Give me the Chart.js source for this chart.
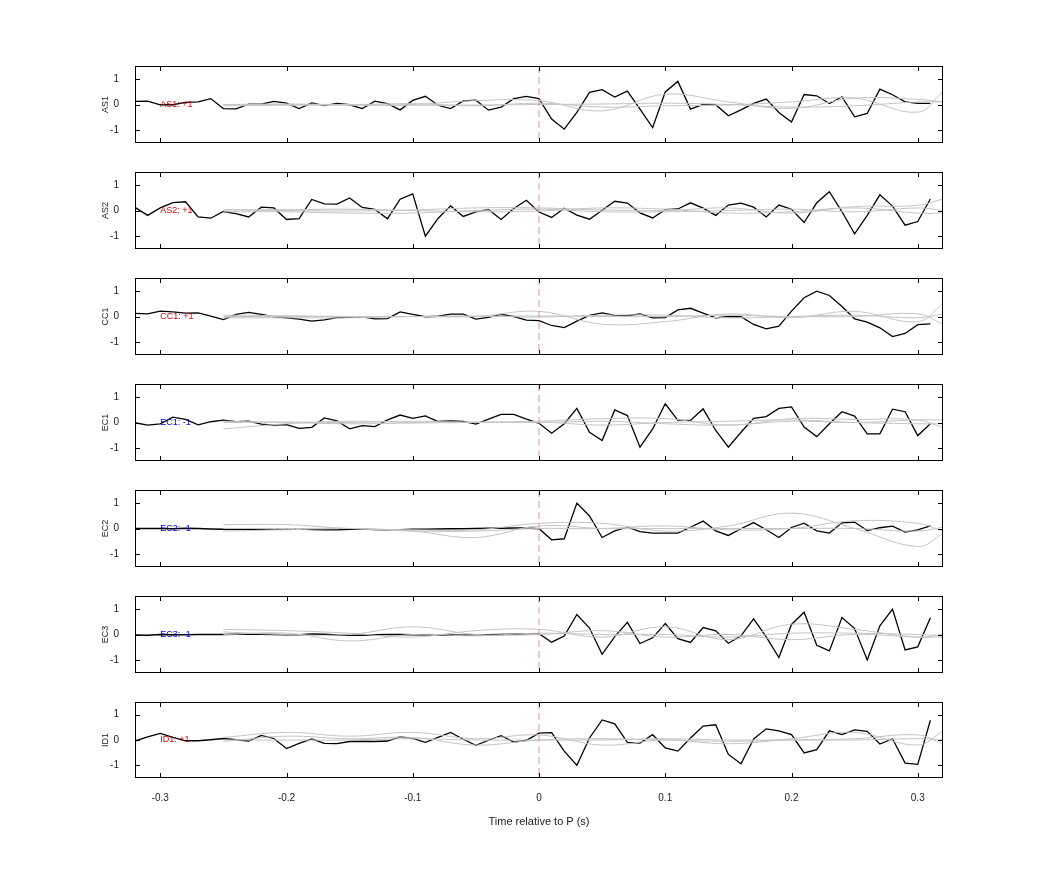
<!DOCTYPE html>
<html>
<head>
<meta charset="utf-8">
<script src="https://cdn.jsdelivr.net/npm/chart.js@4/dist/chart.umd.min.js"></script>
<style>
  body { margin: 0; background: #fff; width: 1042px; height: 875px; position: relative; }
  canvas { position: absolute; left: 0; }
</style>
</head>
<body>
<script>
// channel names, sign and label colour
const channels = ['AS1', 'AS2', 'CC1', 'EC1', 'EC2', 'EC3', 'ID1'];
const signs = ['+1', '+1', '+1', '-1', '-1', '-1', '+1'];
const tickLabels = [-0.3, -0.2, -0.1, 0, 0.1, 0.2, 0.3];

// sample times of the black traces (every 10 ms)
const times = [];
for (let i = 0; i < 64; i++) times.push(Math.round((-0.32 + 0.01 * i) * 100) / 100);

// time points of the grey traces
const greyT = [-0.25, -0.2, -0.15, -0.1, -0.05, 0, 0.05, 0.1, 0.15, 0.2, 0.25, 0.3, 0.32];

const as1 = [0.12,0.13,-0.01,-0.01,0.08,0.1,0.23,-0.16,-0.17,0.01,0.01,0.12,0.05,-0.16,0.06,-0.04,0.04,-0.01,-0.16,0.13,0.03,-0.21,0.16,0.32,-0.03,-0.16,0.14,0.17,-0.22,-0.1,0.23,0.32,0.23,-0.57,-0.96,-0.31,0.47,0.58,0.29,0.52,-0.18,-0.9,0.49,0.9,-0.18,0,-0.01,-0.44,-0.21,0.04,0.21,-0.31,-0.68,0.39,0.34,0.04,0.3,-0.48,-0.35,0.6,0.38,0.1,0.04,0.04];
const as2 = [0.12,-0.19,0.1,0.31,0.34,-0.25,-0.3,-0.04,-0.12,-0.25,0.13,0.1,-0.35,-0.32,0.43,0.26,0.25,0.49,0.12,0.04,-0.32,0.44,0.65,-1.0,-0.31,0.18,-0.23,-0.05,0.04,-0.35,0.08,0.4,-0.06,-0.27,0.09,-0.18,-0.34,0.01,0.36,0.29,-0.09,-0.29,0.03,0.06,0.3,0.09,-0.19,0.21,0.29,0.13,-0.25,0.21,0.05,-0.47,0.3,0.73,-0.05,-0.91,-0.19,0.61,0.17,-0.57,-0.43,0.45];
const cc1 = [0.12,0.1,0.21,0.18,0.13,0.14,0.01,-0.12,0.08,0.16,0.08,-0.01,-0.05,-0.1,-0.18,-0.13,-0.04,-0.03,-0.01,-0.09,-0.08,0.18,0.08,-0.01,0.01,0.09,0.09,-0.1,-0.03,0.08,0,-0.14,-0.16,-0.35,-0.43,-0.18,0.04,0.14,0.04,0.03,0.1,-0.05,-0.04,0.26,0.32,0.13,-0.05,0,-0.01,-0.31,-0.48,-0.38,0.21,0.73,0.99,0.82,0.39,-0.09,-0.22,-0.44,-0.78,-0.66,-0.32,-0.29];
const ec1 = [-0.01,-0.1,-0.05,0.21,0.12,-0.09,0.03,0.09,0.03,0.05,-0.06,-0.1,-0.08,-0.23,-0.19,0.18,0.06,-0.25,-0.12,-0.16,0.1,0.29,0.16,0.26,0.04,0.06,0.04,-0.06,0.13,0.32,0.32,0.13,-0.03,-0.42,-0.05,0.55,-0.38,-0.7,0.49,0.27,-0.96,-0.25,0.73,0.08,0.08,0.53,-0.31,-0.96,-0.38,0.16,0.23,0.55,0.61,-0.18,-0.55,-0.05,0.42,0.25,-0.44,-0.44,0.52,0.42,-0.51,-0.05];
const ec2 = [0,0,0,-0.01,0.01,0,-0.02,-0.03,-0.03,-0.03,-0.03,-0.02,-0.01,-0.02,-0.04,-0.05,-0.05,-0.03,-0.02,-0.04,-0.05,-0.04,-0.03,-0.03,-0.02,-0.01,-0.01,0,0.01,0.01,0.02,0.02,-0.01,-0.44,-0.4,0.99,0.49,-0.35,-0.09,0.05,-0.12,-0.18,-0.18,-0.18,0.05,0.29,-0.09,-0.27,-0.01,0.23,-0.05,-0.35,0.04,0.21,-0.09,-0.18,0.22,0.25,-0.08,0.03,0.09,-0.14,-0.05,0.1];
const ec3 = [-0.02,-0.03,0,-0.01,-0.01,0,0,0,0.01,0.01,0.01,0,-0.01,-0.01,0.02,0.01,-0.02,-0.03,-0.03,-0.01,0,0,-0.01,-0.01,-0.02,-0.02,-0.03,-0.02,-0.01,0,0.01,0.03,0.03,-0.3,-0.06,0.78,0.25,-0.77,-0.08,0.47,-0.35,-0.13,0.43,-0.16,-0.31,0.27,0.14,-0.34,-0.05,0.61,-0.09,-0.9,0.39,0.87,-0.42,-0.64,0.66,0.23,-0.99,0.34,0.99,-0.6,-0.48,0.65];
const id1 = [-0.04,0.12,0.26,0.1,-0.03,-0.03,0.01,0.06,0.01,-0.04,0.18,0.06,-0.34,-0.13,0.04,-0.13,-0.14,-0.06,-0.05,-0.06,-0.04,0.12,0.06,-0.09,0.1,0.3,0.03,-0.21,-0.01,0.17,-0.08,-0.01,0.27,0.29,-0.44,-1.0,0.08,0.79,0.64,-0.09,-0.12,0.21,-0.31,-0.44,0.08,0.55,0.6,-0.57,-0.94,0.04,0.44,0.36,0.21,-0.51,-0.38,0.36,0.21,0.4,0.34,-0.16,0.05,-0.91,-0.96,0.78];
const traces = [as1, as2, cc1, ec1, ec2, ec3, id1];

// grey traces, one list per panel
const greys = [
  [[0,0,-0.02,0,0.15,0.15,-0.25,0.4,0.1,-0.15,0.25,0.2,0.1],
   [0,0.02,0,0.03,-0.05,0.05,-0.1,-0.05,-0.02,0.1,0.25,-0.3,0.5],
   [-0.05,-0.03,-0.02,-0.03,-0.02,0,0.02,0.05,0,-0.1,-0.05,0.1,0.1]],
  [[0.02,0,-0.02,0.02,0.1,0.1,0.02,0,0.1,-0.1,0.15,0.2,0.45],
   [-0.05,-0.05,-0.1,-0.1,0,0.05,-0.05,-0.05,0,0.05,-0.05,0.1,0],
   [0.03,0.03,0.05,0,-0.05,-0.02,0.1,0.05,-0.1,-0.05,0.1,-0.1,-0.1]],
  [[0,0,0,0,0,0.2,-0.3,-0.2,0.1,-0.05,0.2,-0.2,0.5],
   [-0.05,-0.05,-0.05,0,0,0.02,0,0,0.05,0,0,0.1,-0.3],
   [0.05,0.03,0,0,0.02,-0.02,0.05,0.05,-0.05,0,0.05,-0.05,0.1]],
  [[-0.25,-0.05,0.05,0,0,0.05,0.15,0.15,-0.1,0.15,0.12,0.1,-0.2],
   [0.05,0,-0.05,-0.02,0.02,0,0.05,-0.05,-0.1,0.05,0,0.1,0.1],
   [0,0.02,0,0.05,0,0.02,-0.1,0,0.05,0.1,0,-0.05,-0.05]],
  [[0.15,0.15,0,-0.05,-0.05,0.2,0.2,-0.1,0.1,0.6,0,-0.7,-0.2],
   [-0.1,-0.05,0,-0.1,-0.1,0,0,0.1,-0.05,0,0.3,0.2,-0.1],
   [0,0,0,-0.1,-0.35,0.1,0,0,0,0,0,-0.1,0.05]],
  [[0.2,0.15,0.05,-0.1,0.15,0.2,-0.1,0.3,-0.2,0.4,0.2,-0.1,0],
   [0.1,0,0,0.3,0,0,0.15,-0.1,0,-0.2,0,-0.1,-0.1],
   [0,0.05,-0.25,0,-0.05,0.05,0,0,-0.1,0.05,0.05,0,-0.05]],
  [[0.1,0.3,0.15,0.3,0.05,0.2,-0.2,0,-0.15,0.05,0.3,-0.2,0.35],
   [-0.05,0.15,0.05,0.1,-0.2,0,0.05,0,-0.05,0,0.05,0.2,-0.15],
   [0,0,0,0.05,0,0,0,0.05,0,0,0,0.05,0]]
];

const panelTops = [67, 173, 279, 385, 491, 597, 703];

const framePlugin = {
  id: 'frame',
  afterDatasetsDraw(chart) {
    const ctx = chart.ctx, a = chart.chartArea;
    const xs = chart.scales.x, ys = chart.scales.y;
    const idx = chart.options.plugins.frame.idx;
    ctx.save();
    // dashed zero line
    ctx.strokeStyle = '#d89898';
    ctx.lineWidth = 1;
    ctx.setLineDash([7, 4]);
    ctx.beginPath();
    ctx.moveTo(xs.getPixelForValue(0), a.top);
    ctx.lineTo(xs.getPixelForValue(0), a.bottom);
    ctx.stroke();
    ctx.setLineDash([]);
    // box and inward ticks
    ctx.strokeStyle = '#000';
    ctx.strokeRect(a.left + 0.5, a.top + 0.5, a.width - 1, a.height - 1);
    ctx.beginPath();
    tickLabels.forEach(t => {
      const px = Math.round(xs.getPixelForValue(t)) + 0.5;
      ctx.moveTo(px, a.top); ctx.lineTo(px, a.top + 5);
      ctx.moveTo(px, a.bottom); ctx.lineTo(px, a.bottom - 5);
    });
    [-1, 0, 1].forEach(v => {
      const py = Math.round(ys.getPixelForValue(v)) + 0.5;
      ctx.moveTo(a.left, py); ctx.lineTo(a.left + 5, py);
      ctx.moveTo(a.right, py); ctx.lineTo(a.right - 5, py);
    });
    ctx.stroke();
    // in-panel label
    ctx.font = '9px "Liberation Sans", Arial, sans-serif';
    ctx.fillStyle = signs[idx] === '+1' ? '#e00000' : '#0000e0';
    ctx.textBaseline = 'middle';
    ctx.fillText(channels[idx] + ': ' + signs[idx], xs.getPixelForValue(-0.3), ys.getPixelForValue(0));
    // channel name on the left
    ctx.fillStyle = '#222';
    ctx.translate(106, (a.top + a.bottom) / 2);
    ctx.rotate(-Math.PI / 2);
    ctx.textAlign = 'center';
    ctx.fillText(channels[idx], 0, 0);
    ctx.restore();
  }
};

channels.forEach((name, k) => {
  const last = k === channels.length - 1;
  const cv = document.createElement('canvas');
  const h = last ? 145 : 105;
  cv.width = 1042;
  cv.height = h;
  cv.style.top = (panelTops[k] - 15) + 'px';
  cv.style.width = '1042px';
  cv.style.height = h + 'px';
  document.body.appendChild(cv);

  const datasets = greys[k].map(g => ({
    data: greyT.map((t, i) => ({ x: t, y: g[i] })),
    borderColor: '#c4c4c4', borderWidth: 1, pointRadius: 0, tension: 0.4
  }));
  datasets.push({
    data: times.map((t, i) => ({ x: t, y: traces[k][i] })),
    borderColor: '#000', borderWidth: 1.3, pointRadius: 0, tension: 0
  });

  new Chart(cv, {
    type: 'line',
    data: { datasets },
    options: {
      responsive: false,
      animation: false,
      devicePixelRatio: 1,
      layout: { padding: { top: 5, bottom: last ? 0 : 5, right: 99, left: 0 } },
      plugins: { legend: { display: false }, tooltip: { enabled: false }, frame: { idx: k } },
      scales: {
        x: {
          type: 'linear', min: -0.32, max: 0.32,
          display: last,
          afterBuildTicks: s => { s.ticks = tickLabels.map(v => ({ value: v })); },
          afterFit: s => { s.height = last ? 55 : 0; },
          grid: { display: false },
          border: { display: false },
          ticks: {
            color: '#222', font: { size: 10, family: '"Liberation Sans", Arial' }, padding: 6,
            callback: v => v === 0 ? '0' : v.toFixed(1)
          },
          title: { display: true, text: 'Time relative to P (s)', color: '#222', font: { size: 11, family: '"Liberation Sans", Arial' }, padding: { top: 8 } }
        },
        y: {
          min: -1.5, max: 1.5,
          afterBuildTicks: s => { s.ticks = [-1, 0, 1].map(v => ({ value: v })); },
          afterFit: s => { s.width = 135; },
          grid: { display: false },
          border: { display: false },
          ticks: { color: '#222', font: { size: 10, family: '"Liberation Sans", Arial' }, padding: 8 }
        }
      }
    },
    plugins: [framePlugin]
  });
});
</script>
</body>
</html>
